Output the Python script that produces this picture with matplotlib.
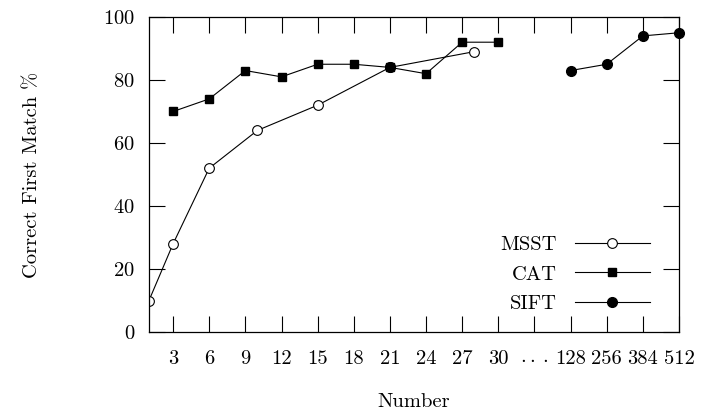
import matplotlib
matplotlib.use("Agg")
import matplotlib.pyplot as plt
import numpy as np

plt.rcParams['font.family'] = ['cmr10', 'DejaVu Serif']
plt.rcParams['mathtext.fontset'] = 'cm'
plt.rcParams['axes.formatter.use_mathtext'] = True
plt.rcParams['font.size'] = 14.8

# x tick values (feature count); after 30 the axis jumps to 128..512
tick_values = [3, 6, 9, 12, 15, 18, 21, 24, 27, 30, None, 128, 256, 384, 512]
tick_labels = ['3', '6', '9', '12', '15', '18', '21', '24', '27', '30',
               r'$\cdot\cdot\cdot$', '128', '256', '384', '512']

msst_x = [1, 3, 6, 10, 15, 21, 28]
msst_y = [10, 28, 52, 64, 72, 84, 89]

cat_x = [3, 6, 9, 12, 15, 18, 21, 24, 27, 30]
cat_y = [70, 74, 83, 81, 85, 85, 84, 82, 92, 92]

sift_x = [21, None, 128, 256, 384, 512]
sift_y = [84, None, 83, 85, 94, 95]


def pos(v):
    # map a value onto the broken axis
    if v is None:
        return np.nan
    if v <= 30:
        return v
    return 33 + v / 128 * 3


def arr(vals):
    return np.array([np.nan if v is None else v for v in vals], dtype=float)


fig = plt.figure(figsize=(7.05, 4.15), dpi=100)
ax = fig.add_axes([149 / 705, 83 / 415, 530 / 705, 315 / 415])

ax.plot([pos(v) for v in msst_x], msst_y, color='black', lw=0.8,
        marker='o', ms=7, mfc='white', mec='black', mew=0.8, label='MSST')
ax.plot([pos(v) for v in cat_x], cat_y, color='black', lw=0.8,
        marker='s', ms=6, label='CAT')
ax.plot([pos(v) for v in sift_x], arr(sift_y), color='black', lw=0.8,
        marker='o', ms=7, label='SIFT', clip_on=False)

ax.set_xlim(1, 45)
ax.set_ylim(0, 100)
ax.set_xticks([pos(v) if v is not None else 33 for v in tick_values])
ax.set_xticklabels(tick_labels)
ax.set_yticks([0, 20, 40, 60, 80, 100])

ax.tick_params(axis='x', direction='in', length=11.5, width=0.8,
               top=True, pad=13)
ax.tick_params(axis='y', direction='in', length=11.5, width=0.8,
               right=True, pad=10)
for s in ax.spines.values():
    s.set_linewidth(0.9)

ax.set_xlabel('Number')
ax.set_ylabel('Correct First Match %')
ax.xaxis.set_label_coords(0.5, -0.195)
ax.yaxis.set_label_coords(-0.203, 0.5)

ax.legend(loc='lower right', bbox_to_anchor=(0.945, 0.06),
          frameon=False, markerfirst=False, handlelength=3.65,
          handletextpad=0.88, labelspacing=0.545, borderpad=0,
          borderaxespad=0)

fig.savefig('out.png', dpi=100)
